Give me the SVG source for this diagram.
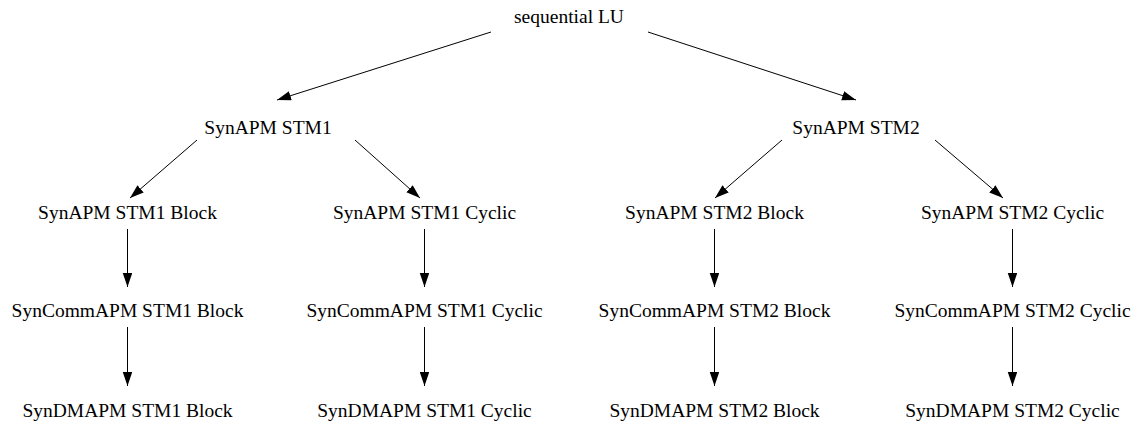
<svg xmlns="http://www.w3.org/2000/svg" width="1136" height="421" viewBox="0 0 1136 421">
<style>
text{font-family:"Liberation Serif","Times New Roman",serif;font-size:19.5px;fill:#000;text-anchor:middle}
.e{stroke:#000;stroke-width:1;fill:none;marker-end:url(#ah)}
</style>
<defs>
<marker id="ah" markerUnits="userSpaceOnUse" markerWidth="15" markerHeight="10" refX="14" refY="4.75" orient="auto">
<path d="M0,0 L14,4.75 L0,9.5 Z" fill="#000"/>
</marker>
</defs>
<rect width="1136" height="421" fill="#fff"/>
<g id="connectors">
<line class="e" x1="491" y1="32" x2="277" y2="100"/>
<line class="e" x1="648" y1="32" x2="856" y2="100"/>
<line class="e" x1="197" y1="140" x2="130" y2="198"/>
<line class="e" x1="355" y1="140" x2="420" y2="198"/>
<line class="e" x1="782" y1="140" x2="715" y2="198"/>
<line class="e" x1="935" y1="140" x2="1003" y2="198"/>
<line class="e" x1="127.5" y1="229" x2="127.5" y2="287"/>
<line class="e" x1="424.5" y1="229" x2="424.5" y2="287"/>
<line class="e" x1="714.5" y1="229" x2="714.5" y2="287"/>
<line class="e" x1="1012.5" y1="229" x2="1012.5" y2="287"/>
<line class="e" x1="127.5" y1="327" x2="127.5" y2="386"/>
<line class="e" x1="424.5" y1="327" x2="424.5" y2="386"/>
<line class="e" x1="714.5" y1="327" x2="714.5" y2="386"/>
<line class="e" x1="1012.5" y1="327" x2="1012.5" y2="386"/>
</g>
<g id="n_root"><text x="569" y="23">sequential LU</text></g>
<g id="n_stm1"><text x="268" y="134">SynAPM STM1</text></g>
<g id="n_stm2"><text x="856" y="134">SynAPM STM2</text></g>
<g id="n_stm1_block"><text x="127.5" y="219">SynAPM STM1 Block</text></g>
<g id="n_stm1_cyclic"><text x="424.5" y="219">SynAPM STM1 Cyclic</text></g>
<g id="n_stm2_block"><text x="714.5" y="219">SynAPM STM2 Block</text></g>
<g id="n_stm2_cyclic"><text x="1012.5" y="219">SynAPM STM2 Cyclic</text></g>
<g id="n_comm_stm1_block"><text x="127.5" y="317">SynCommAPM STM1 Block</text></g>
<g id="n_comm_stm1_cyclic"><text x="424.5" y="317">SynCommAPM STM1 Cyclic</text></g>
<g id="n_comm_stm2_block"><text x="714.5" y="317">SynCommAPM STM2 Block</text></g>
<g id="n_comm_stm2_cyclic"><text x="1012.5" y="317">SynCommAPM STM2 Cyclic</text></g>
<g id="n_dma_stm1_block"><text x="127.5" y="417">SynDMAPM STM1 Block</text></g>
<g id="n_dma_stm1_cyclic"><text x="424.5" y="417">SynDMAPM STM1 Cyclic</text></g>
<g id="n_dma_stm2_block"><text x="714.5" y="417">SynDMAPM STM2 Block</text></g>
<g id="n_dma_stm2_cyclic"><text x="1012.5" y="417">SynDMAPM STM2 Cyclic</text></g>
</svg>
